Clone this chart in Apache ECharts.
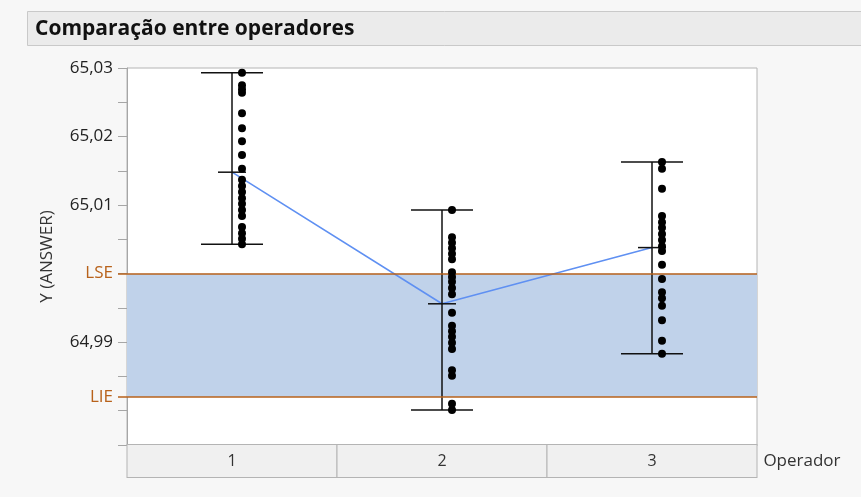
<!DOCTYPE html>
<html>
<head>
<meta charset="utf-8">
<script src="https://cdn.jsdelivr.net/npm/echarts@6/dist/echarts.min.js"></script>
<style>
  html, body { margin: 0; padding: 0; background: #f7f7f7; }
  #chart { width: 861px; height: 497px; }
</style>
</head>
<body>
<div id="chart"></div>
<script>
// Operators on the category axis
const operators = ['1', '2', '3'];

// Individual measurements of Y (ANSWER) per operator
const operator1 = [65.0293, 65.0275, 65.0269, 65.0264, 65.0234, 65.0212, 65.0193, 65.0173, 65.0153, 65.0137,
                   65.0128, 65.0119, 65.0110, 65.0102, 65.0093, 65.0084, 65.0068, 65.0059, 65.0051, 65.0043];
const operator2 = [65.0093, 65.0053, 65.0045, 65.0037, 65.0029, 65.0021, 65.0002, 64.9995, 64.9988, 64.9979,
                   64.9970, 64.9943, 64.9924, 64.9916, 64.9908, 64.9899, 64.9890, 64.9859, 64.9851, 64.9810, 64.9801];
const operator3 = [65.0163, 65.0153, 65.0124, 65.0084, 65.0075, 65.0067, 65.0058, 65.0049, 65.0040, 65.0033,
                   65.0013, 64.9992, 64.9973, 64.9964, 64.9953, 64.9932, 64.9902, 64.9883];

// Operator means (connected by the blue line)
const operatorMeans = [65.0148, 64.9956, 65.0038];

// Specification limits
const specUpper = 65.000;   // LSE
const specLower = 64.982;   // LIE

// Axis ticks
const yMin = 64.975, yMax = 65.03, yStep = 0.005;
const yLabelValues = [64.99, 65.01, 65.02, 65.03];

const groups = [operator1, operator2, operator3];
const pointData = [];
groups.forEach((vals, i) => vals.forEach(v => pointData.push([i, v])));
const rangeData = groups.map((vals, i) => [i, Math.min(...vals), Math.max(...vals), operatorMeans[i]]);
const meanData = operatorMeans.map((m, i) => [i, m]);

const tickValues = [];
for (let k = 0; k <= Math.round((yMax - yMin) / yStep); k++) tickValues.push(+(yMin + k * yStep).toFixed(3));

const orange = '#b8621b';
const axisGray = '#a6a6a6';
const font = '"Open Sans", "Noto Sans", sans-serif';

const chart = echarts.init(document.getElementById('chart'));
chart.setOption({
  animation: false,
  backgroundColor: '#f7f7f7',
  title: {
    text: 'Comparação entre operadores',
    left: 30, top: 14,
    textStyle: { fontFamily: font, fontSize: 21, fontWeight: 'bold', color: '#111' }
  },
  graphic: [{
    type: 'rect', z: -1,
    shape: { x: 27.5, y: 11.5, width: 840, height: 34 },
    style: { fill: '#ebebeb', stroke: '#c9c9c9', lineWidth: 1 }
  }],
  grid: {
    left: 127, right: 104, top: 68, bottom: 52,
    show: true, backgroundColor: '#ffffff', borderColor: '#b4b4b4', borderWidth: 1
  },
  xAxis: {
    type: 'category',
    data: operators,
    boundaryGap: true,
    axisLine: { lineStyle: { color: axisGray } },
    axisTick: { show: false },
    axisLabel: {
      interval: 0, hideOverlap: false,
      margin: 0,
      width: 209, height: 32, lineHeight: 32,
      align: 'center', verticalAlign: 'top',
      backgroundColor: '#f0f0f0', borderColor: '#b4b4b4', borderWidth: 1,
      fontFamily: font, fontSize: 16, color: '#333'
    },
    name: 'Operador',
    nameLocation: 'end',
    nameGap: 6,
    nameTextStyle: { fontFamily: font, fontSize: 17, color: '#333', verticalAlign: 'top', align: 'left', padding: [8, 0, 0, 0] }
  },
  yAxis: [{
    type: 'value',
    min: yMin, max: yMax, interval: yStep,
    name: 'Y (ANSWER)',
    nameLocation: 'middle',
    nameGap: 71,
    nameRotate: 90,
    nameTextStyle: { fontFamily: font, fontSize: 17, color: '#333' },
    axisLine: { show: true, lineStyle: { color: axisGray } },
    axisTick: { show: true, length: 9, customValues: tickValues, lineStyle: { color: axisGray } },
    axisLabel: {
      customValues: yLabelValues,
      margin: 14,
      fontFamily: font, fontSize: 17, color: '#222',
      formatter: v => v.toFixed(2).replace('.', ',')
    },
    splitLine: { show: false }
  }, {
    type: 'value',
    position: 'left',
    min: yMin, max: yMax, interval: yStep,
    axisLine: { show: false },
    axisTick: { show: true, length: 9, customValues: [specLower, specUpper], lineStyle: { color: orange, width: 1.5 } },
    axisLabel: {
      customValues: [specLower, specUpper],
      margin: 14,
      fontFamily: font, fontSize: 17, color: orange,
      formatter: v => (Math.abs(v - specUpper) < 1e-6 ? 'LSE' : 'LIE')
    },
    splitLine: { show: false }
  }],
  series: [
    {
      // specification band with its limit lines
      type: 'line', data: [], silent: true,
      markArea: {
        silent: true,
        itemStyle: { color: '#c0d2ea' },
        data: [[{ yAxis: specLower }, { yAxis: specUpper }]]
      },
      markLine: {
        silent: true, symbol: 'none', precision: 4, label: { show: false },
        lineStyle: { color: orange, width: 1.5, type: 'solid' },
        data: [{ yAxis: specUpper }, { yAxis: specLower }]
      }
    },
    {
      // mean line across operators
      type: 'line', data: meanData, symbol: 'none', z: 3,
      lineStyle: { color: '#5f90f2', width: 1.6 }
    },
    {
      // range bars with caps and mean tick
      type: 'custom', z: 4,
      data: rangeData,
      renderItem: (params, api) => {
        const x = api.value(0);
        const lo = api.coord([x, api.value(1)]);
        const hi = api.coord([x, api.value(2)]);
        const mid = api.coord([x, api.value(3)]);
        const style = { stroke: '#111', lineWidth: 1.5 };
        const capHalf = 31, meanHalf = 14;
        return {
          type: 'group',
          children: [
            { type: 'line', shape: { x1: hi[0], y1: hi[1], x2: lo[0], y2: lo[1] }, style },
            { type: 'line', shape: { x1: hi[0] - capHalf, y1: hi[1], x2: hi[0] + capHalf, y2: hi[1] }, style },
            { type: 'line', shape: { x1: lo[0] - capHalf, y1: lo[1], x2: lo[0] + capHalf, y2: lo[1] }, style },
            { type: 'line', shape: { x1: mid[0] - meanHalf, y1: mid[1], x2: mid[0] + meanHalf, y2: mid[1] }, style }
          ]
        };
      }
    },
    {
      // individual measurements
      type: 'scatter', z: 5,
      data: pointData,
      symbol: 'circle', symbolSize: 8, symbolOffset: [10, 0],
      itemStyle: { color: '#000', opacity: 1 }
    }
  ]
});
</script>
</body>
</html>
